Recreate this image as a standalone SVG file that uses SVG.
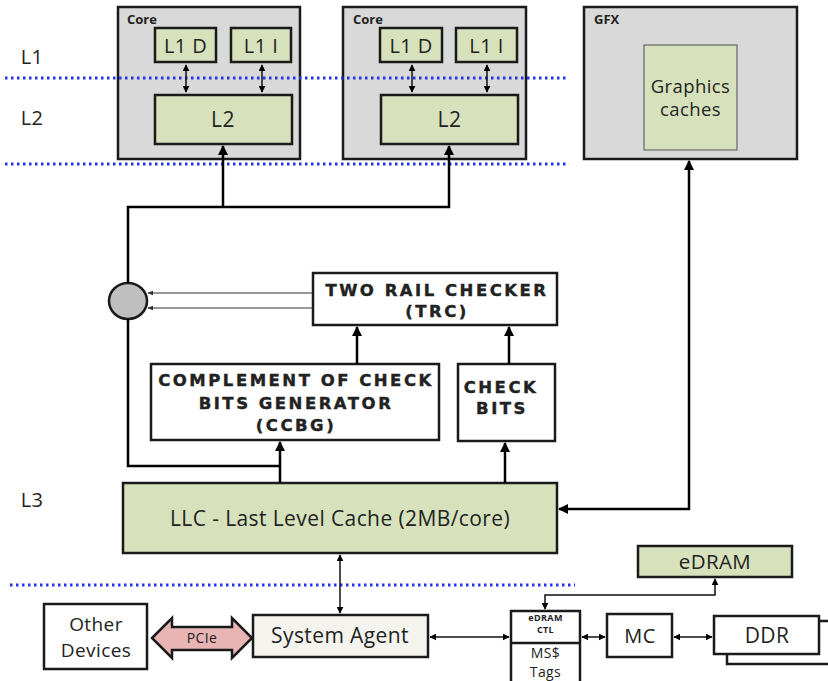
<svg xmlns="http://www.w3.org/2000/svg" width="828" height="681" viewBox="0 0 828 681">
<defs>
<marker id="ah" viewBox="0 0 10 10" refX="9" refY="5" markerWidth="10" markerHeight="10" markerUnits="userSpaceOnUse" orient="auto-start-reverse"><path d="M0,0 L10,5 L0,10 Z" fill="#000"/></marker>
<marker id="as" viewBox="0 0 10 10" refX="9" refY="5" markerWidth="7" markerHeight="7" markerUnits="userSpaceOnUse" orient="auto-start-reverse"><path d="M0,0 L10,5 L0,10 Z" fill="#000"/></marker>
<marker id="at" viewBox="0 0 10 10" refX="9" refY="5" markerWidth="6" markerHeight="6" markerUnits="userSpaceOnUse" orient="auto-start-reverse"><path d="M0,1 L10,5 L0,9 Z" fill="#333"/></marker>
</defs>
<style>
.box{stroke:#1a1a1a;stroke-width:2.5}
.grey{fill:#d9d9d9}
.green{fill:#d7e2bd}
.white{fill:#fff}
.t{font-family:"Open Sans","DejaVu Sans",sans-serif;fill:#222;text-anchor:middle;letter-spacing:0.4px}
.lbl{font-family:"Open Sans","DejaVu Sans",sans-serif;font-weight:bold;font-size:13px;fill:#222}
.b{font-family:"DejaVu Sans",sans-serif;font-weight:bold;fill:#222;text-anchor:middle;letter-spacing:2.5px;font-size:16.5px;stroke:#222;stroke-width:0.4}
.c{fill:none;stroke:#000;stroke-width:2.5}
.cs{fill:none;stroke:#111;stroke-width:1.5}
.dot{stroke:#2233ee;stroke-width:3;stroke-dasharray:2.5 3.5}
</style>
<rect width="828" height="681" fill="#fff"/>

<g id="levels">
<text class="t" x="32" y="64" font-size="20">L1</text>
<text class="t" x="32" y="125" font-size="20">L2</text>
<text class="t" x="32" y="507" font-size="20">L3</text>
</g>

<g id="core1">
<rect class="box grey" x="118" y="7" width="182" height="152"/>
<text class="lbl" x="127" y="24">Core</text>
<rect class="box green" x="155" y="28" width="61" height="34"/>
<text class="t" x="185.5" y="53" font-size="20">L1 D</text>
<rect class="box green" x="231" y="28" width="60" height="34"/>
<text class="t" x="261" y="53" font-size="20">L1 I</text>
<rect class="box green" x="155" y="95" width="137" height="49"/>
<text class="t" x="223" y="127" font-size="21">L2</text>
</g>

<g id="core2">
<rect class="box grey" x="343" y="7" width="183" height="152"/>
<text class="lbl" x="353" y="24">Core</text>
<rect class="box green" x="380" y="28" width="62" height="34"/>
<text class="t" x="411" y="53" font-size="20">L1 D</text>
<rect class="box green" x="456" y="28" width="61" height="34"/>
<text class="t" x="486.5" y="53" font-size="20">L1 I</text>
<rect class="box green" x="381" y="95" width="137" height="49"/>
<text class="t" x="449.5" y="127" font-size="21">L2</text>
</g>

<g id="gfx">
<rect class="box grey" x="584" y="7" width="213" height="152"/>
<text class="lbl" x="594" y="24" font-size="13.5">GFX</text>
<rect x="644" y="45" width="93" height="105" fill="#d7e2bd" stroke="#666" stroke-width="1.2"/>
<text class="t" x="690.5" y="93" font-size="18.5">Graphics</text>
<text class="t" x="690.5" y="116" font-size="18.5">caches</text>
</g>

<g id="dotted">
<line class="dot" x1="5" y1="78" x2="568" y2="78"/>
<line class="dot" x1="5" y1="164" x2="568" y2="164"/>
<line class="dot" x1="10" y1="585" x2="575" y2="585"/>
</g>

<g id="trc">
<rect class="box white" x="313" y="273" width="244" height="52"/>
<text class="b" x="437" y="296">TWO RAIL CHECKER</text>
<text class="b" x="437" y="317">(TRC)</text>
</g>

<g id="ccbg">
<rect class="box white" x="151" y="364" width="288" height="76"/>
<text class="b" x="296" y="386">COMPLEMENT OF CHECK</text>
<text class="b" x="296" y="409">BITS GENERATOR</text>
<text class="b" x="296" y="431">(CCBG)</text>
</g>

<g id="checkbits">
<rect class="box white" x="458" y="364" width="97" height="77"/>
<text class="b" x="501" y="393">CHECK</text>
<text class="b" x="502" y="414">BITS</text>
</g>

<g id="comparator">
<ellipse cx="128" cy="301" rx="19" ry="18" fill="#bfbfbf" stroke="#1a1a1a" stroke-width="2.5"/>
</g>

<g id="llc">
<rect class="box green" x="123" y="483" width="434" height="70"/>
<text class="t" x="340" y="526" font-size="21">LLC - Last Level Cache (2MB/core)</text>
</g>

<g id="other">
<rect class="box white" x="44" y="604" width="103" height="65"/>
<text class="t" x="96" y="631" font-size="19">Other</text>
<text class="t" x="96" y="657" font-size="19">Devices</text>
</g>

<g id="pcie">
<path d="M152,638 L172,618 L172,627 L232,627 L232,618 L252,638 L232,658 L232,650 L172,650 L172,658 Z" fill="#e8b4b4" stroke="#1a1a1a" stroke-width="2.5" stroke-linejoin="miter"/>
<text class="t" x="202" y="643" font-size="14" letter-spacing="0">PCIe</text>
</g>

<g id="sysagent">
<rect class="box" x="253" y="615" width="175" height="42" fill="#f5f3ee"/>
<text class="t" x="340" y="643" font-size="21">System Agent</text>
</g>

<g id="edramctl">
<rect class="box white" x="511" y="611" width="69" height="75"/>
<line x1="511" y1="643" x2="580" y2="643" stroke="#1a1a1a" stroke-width="2.5"/>
<text class="t" x="545.5" y="620.5" font-size="9" font-weight="bold" letter-spacing="0">eDRAM</text>
<text class="t" x="545.5" y="633" font-size="9" font-weight="bold" letter-spacing="0">CTL</text>
<text class="t" x="545.5" y="658" font-size="14">MS$</text>
<text class="t" x="545.5" y="677" font-size="14">Tags</text>
</g>

<g id="edram">
<rect class="box green" x="638" y="546" width="154" height="31"/>
<text class="t" x="715" y="569" font-size="20.5">eDRAM</text>
</g>

<g id="mc">
<rect class="box white" x="607" y="614" width="65" height="43"/>
<text class="t" x="640" y="643" font-size="20">MC</text>
</g>

<g id="ddr">
<rect class="box white" x="727" y="621" width="120" height="43"/>
<rect class="box white" x="714" y="616" width="105" height="38"/>
<text class="t" x="767" y="643" font-size="21">DDR</text>
</g>

<g id="connectors">
<line class="cs" x1="186" y1="65" x2="186" y2="92" marker-start="url(#as)" marker-end="url(#as)"/>
<line class="cs" x1="262" y1="65" x2="262" y2="92" marker-start="url(#as)" marker-end="url(#as)"/>
<line class="cs" x1="412" y1="65" x2="412" y2="92" marker-start="url(#as)" marker-end="url(#as)"/>
<line class="cs" x1="487" y1="65" x2="487" y2="92" marker-start="url(#as)" marker-end="url(#as)"/>

<polyline class="c" points="128,283 128,207 449,207 449,146" marker-end="url(#ah)"/>
<line class="c" x1="223" y1="207" x2="223" y2="146" marker-end="url(#ah)"/>
<polyline class="c" points="128,319 128,466 280,466"/>
<line class="c" x1="280" y1="483" x2="280" y2="442" marker-end="url(#ah)"/>
<line class="c" x1="505" y1="483" x2="505" y2="443" marker-end="url(#ah)"/>
<line class="c" x1="357" y1="364" x2="357" y2="327" marker-end="url(#ah)"/>
<line class="c" x1="509" y1="364" x2="509" y2="327" marker-end="url(#ah)"/>

<line x1="313" y1="293" x2="148" y2="293" stroke="#333" stroke-width="1" marker-end="url(#at)"/>
<line x1="313" y1="308" x2="148" y2="308" stroke="#333" stroke-width="1" marker-end="url(#at)"/>

<polyline class="c" points="689,161 689,509 559,509" marker-start="url(#ah)" marker-end="url(#ah)"/>

<line class="cs" x1="340" y1="555" x2="340" y2="613" marker-start="url(#as)" marker-end="url(#as)"/>
<line class="cs" x1="430" y1="637" x2="509" y2="637" marker-start="url(#as)" marker-end="url(#as)"/>
<line class="cs" x1="582" y1="637" x2="605" y2="637" marker-start="url(#as)" marker-end="url(#as)"/>
<line class="cs" x1="674" y1="637" x2="712" y2="637" marker-start="url(#as)" marker-end="url(#as)"/>
<polyline class="cs" points="545,609 545,595 715,595 715,579" marker-start="url(#as)" marker-end="url(#as)"/>
</g>
</svg>
